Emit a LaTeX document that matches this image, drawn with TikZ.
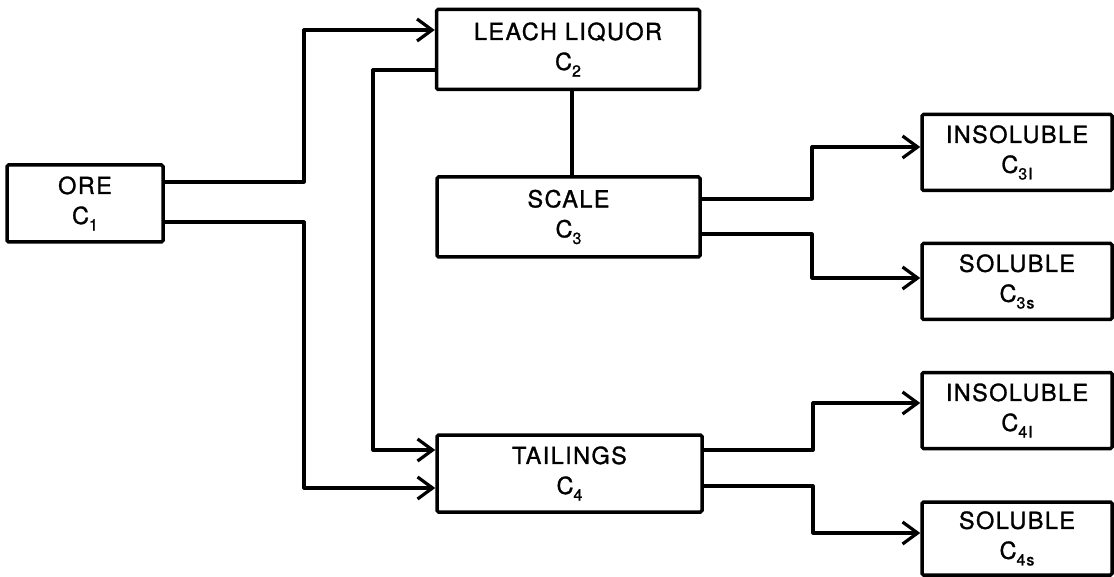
\documentclass[tikz,border=0pt]{standalone}
\usepackage{fontspec}
\setmainfont{TeX Gyre Heros}[LetterSpace=6,FakeBold=1.2]
\usetikzlibrary{arrows.meta}
\newcommand{\lowsub}[1]{\raisebox{-0.28em}{\fontsize{16}{16}\selectfont #1}}
\tikzset{
  box/.style={draw, line width=3.5pt, rounded corners=1.5pt, inner sep=0pt,
    align=center, font=\fontsize{23.5}{30}\selectfont},
  midbox/.style={box, minimum width=263pt, minimum height=80pt},
  endbox/.style={box, minimum width=190pt, minimum height=76pt},
  conn/.style={line width=3.2pt, line join=round},
  arr/.style={conn, -{Straight Barb[length=15pt,width=22pt,line width=3.2pt]}}
}
\begin{document}
\begin{tikzpicture}[x=1pt,y=-1pt]
\useasboundingbox (0,0) rectangle (1114,577);
\node[box, minimum width=156pt, minimum height=77pt] (ore) at (85,203.5) {ORE\\C\lowsub{1}};
\node[midbox] (leach) at (568,49.5) {LEACH LIQUOR\\C\lowsub{2}};
\node[midbox] (scale) at (568.5,217) {SCALE\\C\lowsub{3}};
\node[midbox, minimum width=265pt, minimum height=77pt] (tail) at (569.5,473.5) {TAILINGS\\C\lowsub{4}};
\node[endbox] (ins3) at (1017,152.5) {INSOLUBLE\\C\lowsub{3I}};
\node[endbox] (sol3) at (1017,281.5) {SOLUBLE\\C\lowsub{3s}};
\node[endbox] (ins4) at (1017,410.5) {INSOLUBLE\\C\lowsub{4I}};
\node[endbox, minimum height=73pt] (sol4) at (1017,538.5) {SOLUBLE\\C\lowsub{4s}};
% from ore
\draw[arr] (ore.east |- 0,182) -| (304,30) -- (leach.west |- 0,30);
\draw[arr] (ore.east |- 0,222) -| (304,488) -- (tail.west |- 0,488);
% leach to tailings
\draw[arr] (leach.west |- 0,70) -| (373,450) -- (tail.west |- 0,450);
% leach to scale
\draw[conn] (leach.south -| 572,0) -- (scale.north -| 572,0);
% scale outputs
\draw[arr] (scale.east |- 0,199) -| (812,147) -- (ins3.west |- 0,147);
\draw[arr] (scale.east |- 0,234) -| (812,278) -- (sol3.west |- 0,278);
% tailings outputs
\draw[arr] (tail.east |- 0,450) -| (813,403) -- (ins4.west |- 0,403);
\draw[arr] (tail.east |- 0,486) -| (813,533) -- (sol4.west |- 0,533);
\end{tikzpicture}
\end{document}
